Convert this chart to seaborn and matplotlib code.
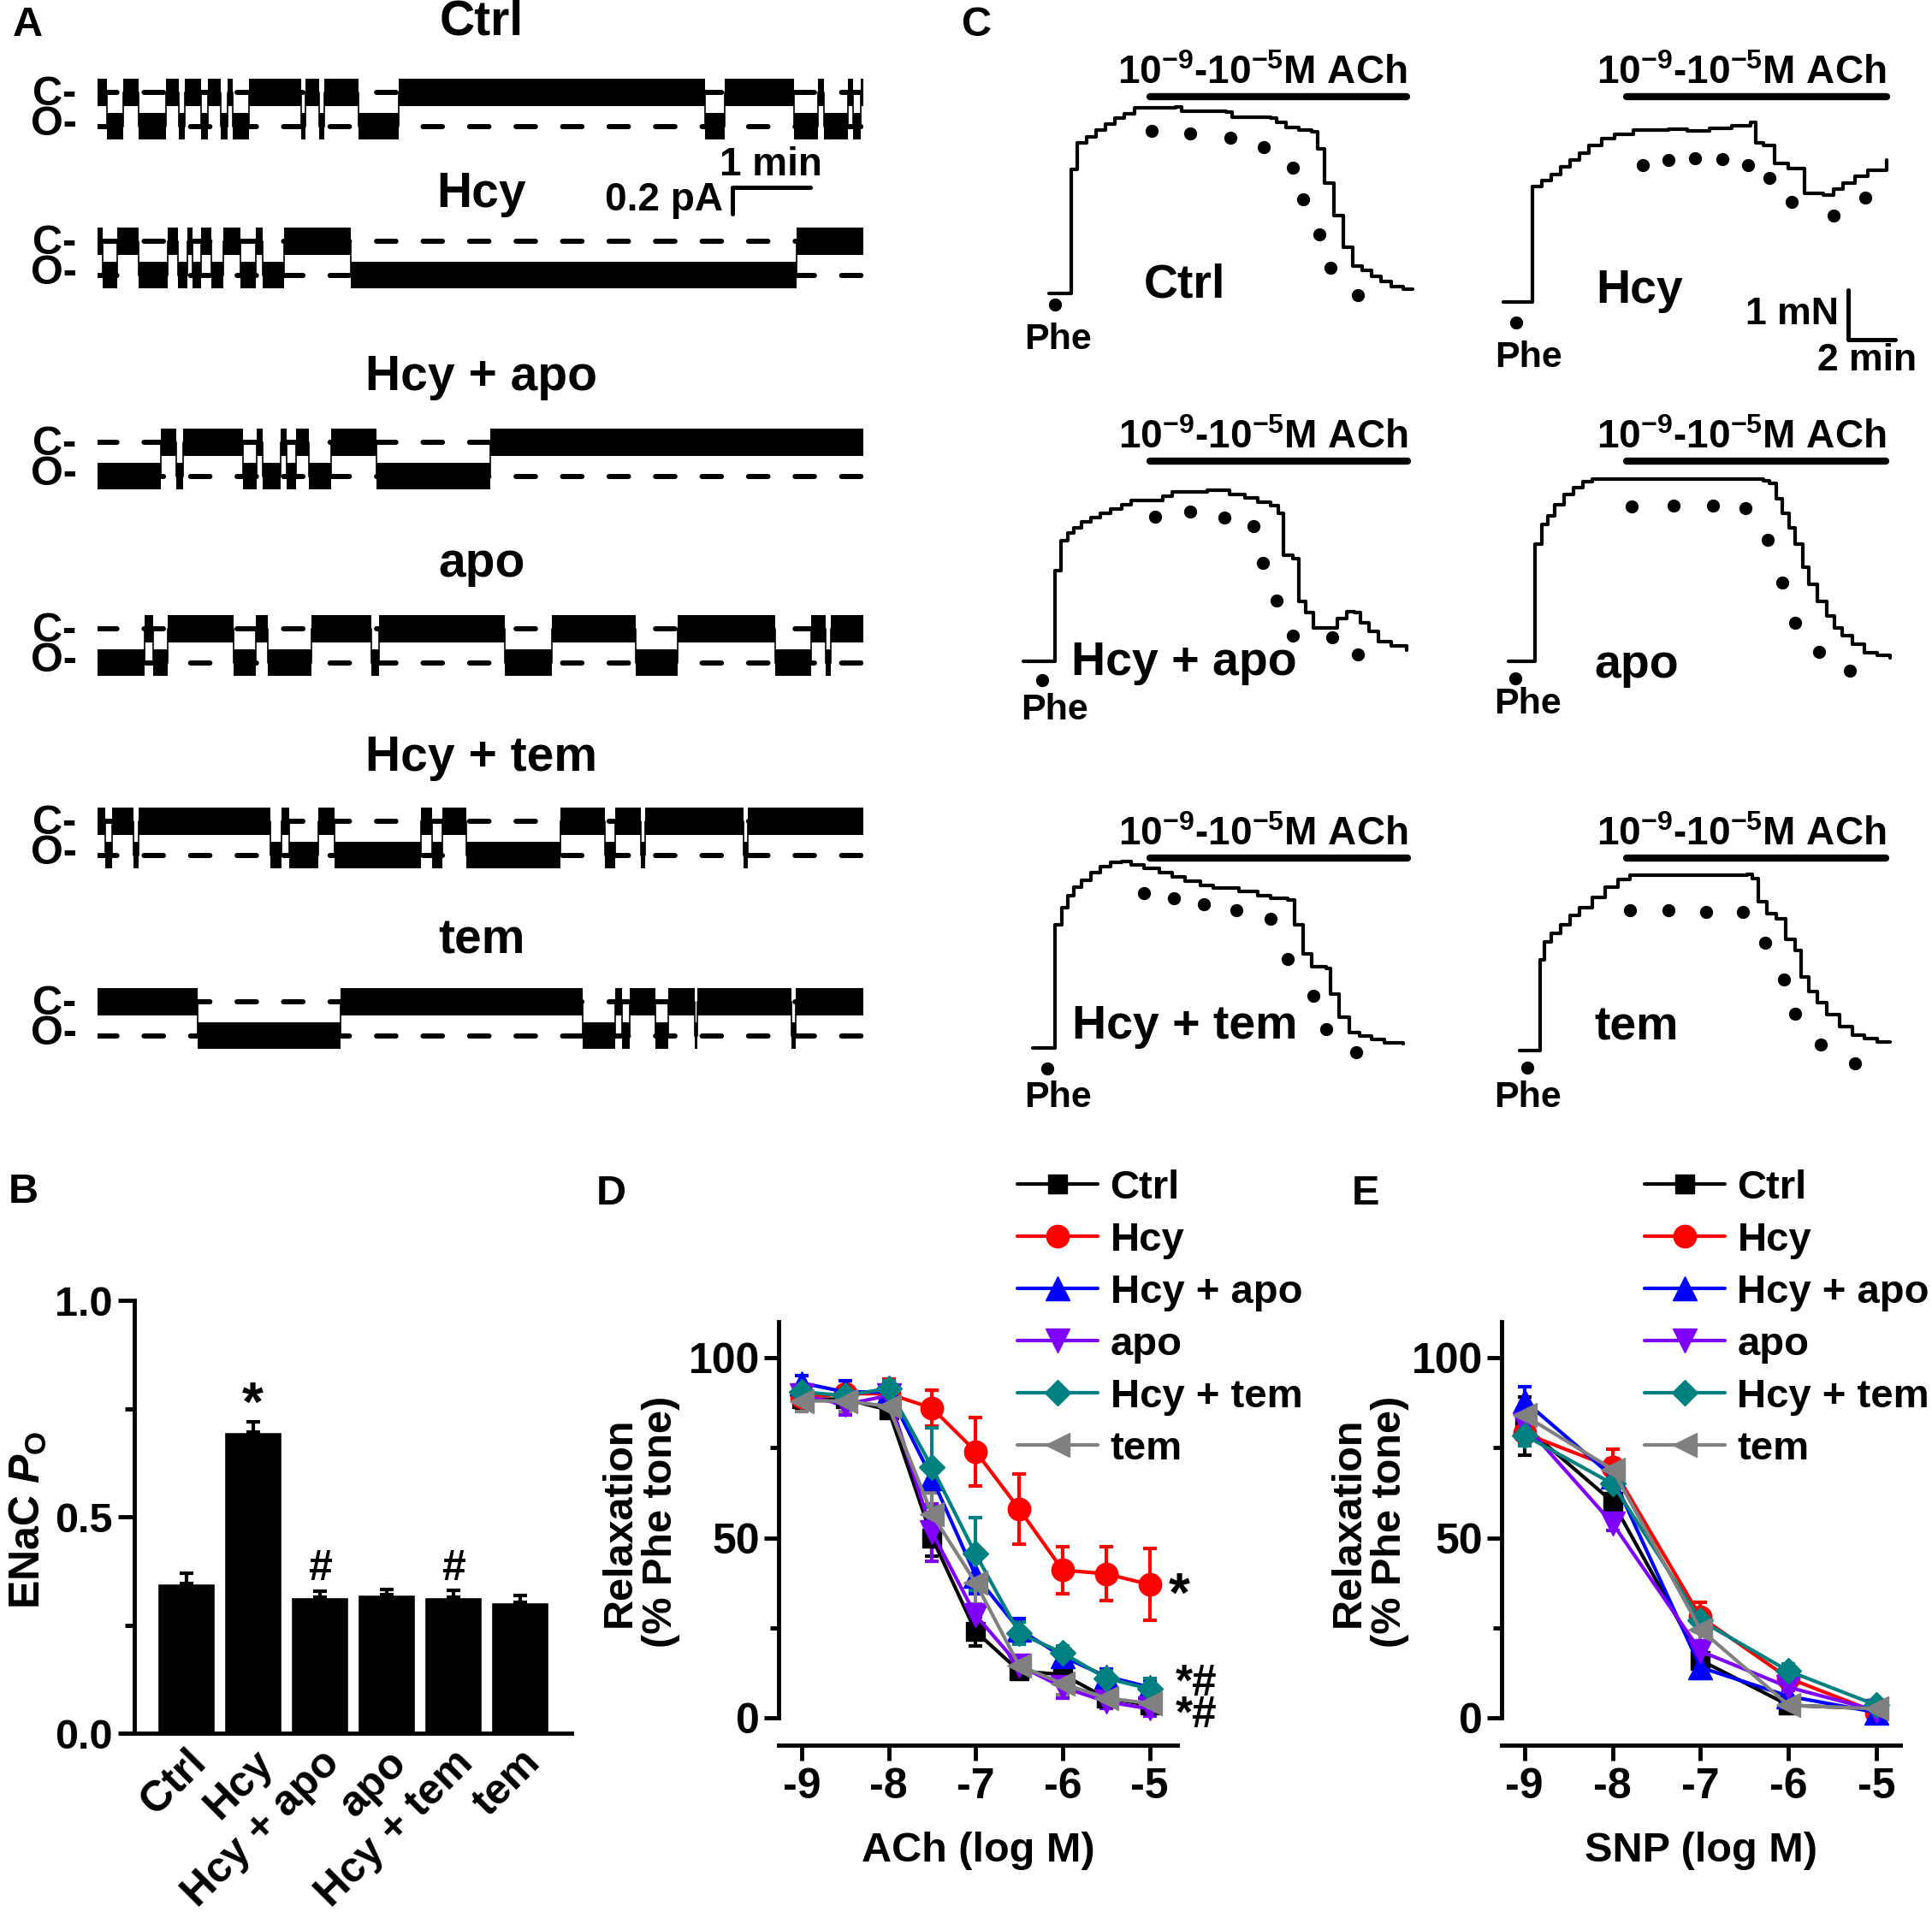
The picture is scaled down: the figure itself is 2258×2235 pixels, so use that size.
import numpy as np
import seaborn as sns
import matplotlib.pyplot as plt
from matplotlib.ticker import FixedLocator, FormatStrFormatter

# ---------------- data ----------------
groups = ['Ctrl', 'Hcy', 'Hcy + apo', 'apo', 'Hcy + tem', 'tem']
colors = ['#000000', '#ff0000', '#0000ff', '#8000ff', '#008080', '#808080']
markers = ['s', 'o', '^', 'v', 'D', '<']
marker_sizes = [16, 19, 20, 20, 15, 20]

# A: single channel records, state change times (s), states alternate from the first one
a_ctrl_t = [0, 7, 20, 32, 53, 63, 67, 80, 85, 95, 100, 104, 117, 157, 160, 171, 175, 201, 232,
            468, 483, 537, 555, 560, 578, 582, 588, 590]
a_hcy_t = [0, 4, 15, 32, 54, 62, 69, 73, 80, 88, 97, 110, 122, 127, 144, 195, 539, 590]
a_hcy_apo_t = [0, 49, 61, 66, 112, 123, 127, 141, 146, 153, 163, 180, 215, 303, 590]
a_apo_t = [0, 36, 43, 54, 105, 122, 131, 165, 211, 217, 314, 350, 415, 447, 522, 550, 561, 565, 590]
a_hcy_tem_t = [0, 6, 11, 28, 32, 133, 142, 148, 170, 183, 249, 258, 266, 284, 357, 391, 399,
               419, 422, 498, 501, 590]
a_tem_t = [0, 77, 187, 374, 399, 404, 410, 430, 440, 460, 462, 535, 538, 590]
a_first_state = ['C', 'C', 'O', 'O', 'C', 'C']

# B: ENaC Po
po_mean = [0.346, 0.696, 0.315, 0.320, 0.314, 0.302]
po_se = [0.024, 0.024, 0.013, 0.013, 0.017, 0.017]

# C: tension records (min, mN) and ACh dose dots
c_ctrl_t = [0, 0.68, 0.95, 1.22, 1.62, 2.03, 2.43, 2.84, 3.24, 3.65, 5.41, 5.68, 7.57, 7.84, 9.46,
            9.73, 10.14, 10.68, 11.22, 11.49, 11.76, 12.16, 12.57, 12.97, 13.38, 13.78, 14.19,
            14.6, 15.14, 15.54]
c_ctrl_f = [0, 0, 2.53, 3.06, 3.18, 3.32, 3.44, 3.56, 3.65, 3.77, 3.79, 3.71, 3.68, 3.59, 3.56,
            3.47, 3.38, 3.32, 3.29, 2.94, 2.24, 1.59, 0.94, 0.56, 0.47, 0.35, 0.24, 0.15, 0.09, 0.09]
c_ctrl_dot_t = [0.27, 4.41, 6.03, 7.76, 9.19, 10.41, 10.87, 11.54, 12.03, 13.19]
c_ctrl_dot_f = [-0.22, 3.31, 3.25, 3.16, 2.98, 2.56, 1.91, 1.21, 0.53, -0.03]

c_hcy_t = [0, 1.08, 1.22, 1.62, 2.03, 2.43, 2.84, 3.24, 3.65, 4.19, 4.73, 5.54, 7.03, 7.84, 8.78,
           9.73, 10.54, 10.76, 11.08, 11.57, 12.16, 12.84, 13.65, 14.06, 14.46, 15.0, 15.54, 16.35]
c_hcy_f = [0, 0, 2.35, 2.47, 2.59, 2.74, 2.88, 3.03, 3.18, 3.32, 3.41, 3.50, 3.52, 3.47, 3.53,
           3.59, 3.65, 3.24, 3.18, 2.82, 2.71, 2.21, 2.18, 2.29, 2.41, 2.56, 2.68, 2.88]
c_hcy_dot_t = [0.54, 5.95, 7.03, 8.16, 9.33, 10.41, 11.35, 12.30, 14.06, 15.41]
c_hcy_dot_f = [-0.41, 2.79, 2.89, 2.93, 2.91, 2.79, 2.53, 2.03, 1.76, 2.13]

c_hcy_apo_t = [0, 1.22, 1.35, 1.62, 1.89, 2.16, 2.49, 2.89, 3.30, 3.73, 4.19, 4.60, 5.95, 6.35,
               7.84, 8.78, 9.46, 10.0, 10.54, 10.87, 11.08, 11.49, 11.76, 12.03, 12.38, 13.11,
               13.38, 13.78, 14.11, 14.38, 14.73, 15.14, 15.68, 16.35]
c_hcy_apo_f = [0, 0, 1.85, 2.46, 2.61, 2.72, 2.84, 2.92, 3.01, 3.09, 3.19, 3.27, 3.36, 3.44, 3.48,
               3.39, 3.32, 3.24, 3.16, 3.01, 2.15, 2.08, 1.22, 0.99, 0.69, 0.69, 0.87, 1.01, 0.99,
               0.78, 0.61, 0.41, 0.32, 0.23]
c_hcy_apo_dot_t = [0.81, 5.62, 7.11, 8.57, 9.81, 10.22, 10.81, 11.49, 13.19, 14.27]
c_hcy_apo_dot_f = [-0.38, 2.94, 3.04, 2.92, 2.75, 2.0, 1.24, 0.53, 0.49, 0.15]

c_apo_t = [0, 1.0, 1.14, 1.41, 1.68, 1.95, 2.35, 2.76, 3.16, 3.57, 10.87, 11.14, 11.41, 11.68,
           11.95, 12.22, 12.54, 12.81, 13.16, 13.57, 13.89, 14.24, 14.65, 15.19, 15.73, 16.27]
c_apo_f = [0, 0, 2.38, 2.78, 2.96, 3.19, 3.39, 3.53, 3.65, 3.70, 3.67, 3.62, 3.30, 3.01, 2.72,
           2.38, 1.91, 1.57, 1.22, 0.93, 0.69, 0.53, 0.35, 0.18, 0.12, 0.08]
c_apo_dot_t = [0.27, 5.24, 7.03, 8.70, 10.11, 11.05, 11.68, 12.22, 13.24, 14.54]
c_apo_dot_f = [-0.35, 3.15, 3.17, 3.16, 3.11, 2.47, 1.61, 0.78, 0.19, -0.18]

c_hcy_tem_t = [0, 0.81, 0.95, 1.22, 1.49, 1.76, 2.08, 2.49, 2.89, 3.32, 3.78, 4.19, 4.73, 5.41,
               5.95, 6.49, 7.16, 7.70, 8.78, 9.60, 10.14, 10.89, 11.16, 11.54, 11.89, 12.51,
               12.70, 13.05, 13.51, 13.92, 14.46, 15.0, 15.81]
c_hcy_tem_f = [0, 0, 2.50, 2.85, 3.09, 3.27, 3.41, 3.56, 3.68, 3.77, 3.79, 3.72, 3.65, 3.56, 3.47,
               3.38, 3.29, 3.24, 3.18, 3.09, 3.03, 3.00, 2.50, 1.91, 1.65, 1.62, 1.09, 0.62, 0.32,
               0.24, 0.18, 0.10, 0.08]
c_hcy_tem_dot_t = [0.62, 4.73, 6.03, 7.30, 8.70, 10.14, 10.87, 11.95, 12.51, 13.78]
c_hcy_tem_dot_f = [-0.41, 3.15, 3.03, 2.91, 2.79, 2.62, 1.81, 1.06, 0.38, -0.08]

c_tem_t = [0, 0.81, 0.89, 1.08, 1.35, 1.76, 2.16, 2.57, 3.11, 3.65, 4.19, 4.73, 9.73, 9.92, 10.19,
           10.54, 10.95, 11.35, 11.76, 12.03, 12.35, 12.70, 13.11, 13.65, 14.19, 14.73, 15.27, 15.81]
c_tem_f = [0, 0, 1.85, 2.21, 2.38, 2.56, 2.74, 2.91, 3.12, 3.32, 3.47, 3.56, 3.59, 3.50, 3.03,
           2.79, 2.68, 2.26, 2.03, 1.50, 1.21, 0.97, 0.74, 0.50, 0.32, 0.24, 0.18, 0.18]
c_tem_dot_t = [0.32, 4.73, 6.35, 7.97, 9.54, 10.49, 11.30, 11.76, 12.84, 14.33]
c_tem_dot_f = [-0.35, 2.85, 2.85, 2.82, 2.82, 2.19, 1.44, 0.76, 0.13, -0.26]

# D: ACh concentration response
ach_x = [-9, -8.5, -8, -7.5, -7, -6.5, -6, -5.5, -5]
ach_ctrl = [88.5, 88.5, 85.5, 50, 24, 13, 12, 5.5, 3.5]
ach_hcy = [89, 90, 90, 86, 74, 58, 41, 40, 37]
ach_hcy_apo = [93, 90.5, 90.5, 66.5, 39.5, 24.5, 17, 11.5, 8.5]
ach_apo = [89.5, 87, 89.5, 51.5, 28.5, 14.5, 8.5, 4.5, 2.5]
ach_hcy_tem = [90.5, 89.5, 91.5, 69.5, 45.5, 23.5, 18, 11, 8]
ach_tem = [88, 88, 86.5, 56.5, 37.5, 14.5, 9.5, 5.5, 4]
ach_ctrl_se = [3, 2, 2, 5, 4, 2, 2, 2, 2]
ach_hcy_se = [2, 2, 4, 5, 9.5, 9.7, 6.5, 7.5, 10]
ach_hcy_apo_se = [2, 3, 2, 4, 5, 3, 2, 2, 2]
ach_apo_se = [3, 3, 2, 8, 3, 2, 3, 2, 2]
ach_hcy_tem_se = [2, 2, 2, 11, 10, 3, 2, 2, 3]
ach_tem_se = [3, 3, 2, 6, 6, 2, 3, 2, 2]

# E: SNP concentration response
snp_x = [-9, -8, -7, -6, -5]
snp_ctrl = [81, 60, 16, 3.5, 2.5]
snp_hcy = [79, 69.5, 28, 11, 1.5]
snp_hcy_apo = [88, 67, 14, 6, 1.5]
snp_apo = [81.5, 54, 18.5, 8.5, 2]
snp_hcy_tem = [78.5, 65, 27, 13, 3.5]
snp_tem = [84, 69, 24.5, 3.5, 2.5]
snp_ctrl_se = [8, 4, 3, 1.5, 1]
snp_hcy_se = [3, 5, 4, 1, 1]
snp_hcy_apo_se = [4, 3, 3, 2, 1]
snp_apo_se = [3, 2, 2, 1, 1]
snp_hcy_tem_se = [3, 3, 2, 2, 1]
snp_tem_se = [3, 3, 3, 1, 1]

# ---------------- style ----------------
sns.set_theme(style='ticks')
plt.rcParams['font.family'] = ['Liberation Sans', 'DejaVu Sans']
plt.rcParams.update({
    'font.weight': 'bold', 'axes.labelweight': 'bold',
    'text.color': 'black', 'axes.labelcolor': 'black', 'axes.edgecolor': 'black',
    'xtick.color': 'black', 'ytick.color': 'black', 'axes.linewidth': 3.5,
    'axes.unicode_minus': False,
    'mathtext.fontset': 'custom', 'mathtext.rm': 'Liberation Sans:bold',
    'mathtext.bf': 'Liberation Sans:bold', 'mathtext.it': 'Liberation Sans:italic:bold',
})

W, H = 2258, 2235
fig = plt.figure(figsize=(W / 100, H / 100), dpi=100)


def px_axes(left, top, right, bottom):
    return fig.add_axes([left / W, 1 - bottom / H, (right - left) / W, (bottom - top) / H])


# ---------------- A ----------------
A_LEFT, A_SEC, A_PA = 113.9, 1.5168, 158.5
UNIT, BAND = 0.25, 0.1
a_traces = [a_ctrl_t, a_hcy_t, a_hcy_apo_t, a_apo_t, a_hcy_tem_t, a_tem_t]
a_rows_px = [108, 282, 517, 735, 960, 1171]
a_title_dy = [0.52, 0.35, 0.48, 0.48, 0.47, 0.45]

for i, (bounds, first) in enumerate(zip(a_traces, a_first_state)):
    yc = a_rows_px[i]
    ax = px_axes(A_LEFT, yc - 0.6 * A_PA, A_LEFT + 590 * A_SEC, yc + 0.6 * A_PA)
    ax.set_xlim(0, 590)
    ax.set_ylim(-0.6, 0.6)
    ax.axis('off')
    for lvl in (0, -UNIT):
        ax.plot([0, 590], [lvl, lvl], color='black', lw=4.3, ls=(0, (3.8, 5.3)),
                dash_capstyle='round', zorder=1)
    t = np.array(bounds, dtype=float)
    n = len(t) - 1
    is_open = [(k % 2 == 1) if first == 'C' else (k % 2 == 0) for k in range(n)]
    lv = np.array([-UNIT if o else 0.0 for o in is_open])
    lv = np.append(lv, lv[-1])
    ax.fill_between(t, lv - BAND, lv + BAND, step='post', color='black', lw=0, zorder=3)
    ax.step(t, lv, where='post', color='black', lw=1.2, zorder=3)
    ax.text(-16, -UNIT / 2, 'C-\nO-', ha='right', va='center', fontsize=35, linespacing=0.73)
    ax.text(296, a_title_dy[i], groups[i], ha='center', va='center', fontsize=41)
    if i == 1:
        ax.plot([489, 489, 549], [0.2, 0.4, 0.4], color='black', lw=3.6, clip_on=False)
        ax.text(519, 0.56, '1 min', ha='center', va='center', fontsize=33)
        ax.text(482, 0.3, '0.2 pA', ha='right', va='center', fontsize=33)

# ---------------- C ----------------
C_MIN, C_MN = 27.4, 57.6
c_traces = [(c_ctrl_t, c_ctrl_f, c_ctrl_dot_t, c_ctrl_dot_f),
            (c_hcy_t, c_hcy_f, c_hcy_dot_t, c_hcy_dot_f),
            (c_hcy_apo_t, c_hcy_apo_f, c_hcy_apo_dot_t, c_hcy_apo_dot_f),
            (c_apo_t, c_apo_f, c_apo_dot_t, c_apo_dot_f),
            (c_hcy_tem_t, c_hcy_tem_f, c_hcy_tem_dot_t, c_hcy_tem_dot_f),
            (c_tem_t, c_tem_f, c_tem_dot_t, c_tem_dot_f)]
c_origin_px = [(1225.6, 343.3), (1757.3, 353.3), (1196.0, 773.3), (1763.2, 773.3),
               (1207.1, 1225.0), (1775.8, 1228.3)]
c_bar = [(4.32, 15.27, 3.99), (5.26, 16.33, 4.17), (5.39, 16.39, 4.06), (5.04, 16.10, 4.06),
         (4.99, 15.99, 3.85), (4.58, 15.64, 3.91)]
c_name_pos = [(5.8, 0.17), (5.8, 0.23), (6.87, -0.03), (5.45, -0.09), (6.47, 0.43), (4.99, 0.46)]
c_phe_pos = [(0.4, -0.93), (1.08, -1.13), (1.35, -0.98), (0.81, -0.87), (1.08, -1.01), (0.35, -0.95)]

for i, (tt, ff, dt, df) in enumerate(c_traces):
    x0, yb = c_origin_px[i]
    ax = px_axes(x0 - 2 * C_MIN, yb - 5 * C_MN, x0 + 18 * C_MIN, yb + 2 * C_MN)
    ax.set_xlim(-2, 18)
    ax.set_ylim(-2, 5)
    ax.axis('off')
    ax.plot(tt, ff, drawstyle='steps-post', color='black', lw=3)
    ax.plot(dt, df, 'o', color='black', ms=10, ls='none')
    b0, b1, bf = c_bar[i]
    ax.plot([b0, b1], [bf, bf], color='black', lw=6, solid_capstyle='round')
    ax.text(b1, bf + 0.27, r'10$^{-9}$-10$^{-5}$M ACh', ha='right', va='baseline', fontsize=33)
    ax.text(*c_name_pos[i], groups[i], ha='center', va='center', fontsize=40)
    ax.text(*c_phe_pos[i], 'Phe', ha='center', va='center', fontsize=31)
    if i == 1:
        ax.plot([14.7, 14.7, 16.7], [0.25, -0.75, -0.75], color='black', lw=3.6, clip_on=False)
        ax.text(14.3, -0.25, '1 mN', ha='right', va='center', fontsize=32)
        ax.text(15.5, -1.19, '2 min', ha='center', va='center', fontsize=32)

# ---------------- B ----------------
axB = px_axes(143, 1520.4, 668, 2026)
sns.barplot(x=groups, y=po_mean, color='black', saturation=1, width=0.86, errorbar=None, ax=axB)
axB.errorbar(range(len(groups)), po_mean, yerr=[np.zeros(len(groups)), po_se], fmt='none',
             ecolor='black', elinewidth=3, capsize=6, capthick=3)
sns.despine(ax=axB)
axB.set_xlim(-0.957, 5.77)
axB.set_ylim(0, 1.0)
axB.spines['left'].set_position(('data', -0.78))
axB.set_yticks([0, 0.5, 1.0])
axB.yaxis.set_minor_locator(FixedLocator([0.25, 0.75]))
axB.yaxis.set_major_formatter(FormatStrFormatter('%.1f'))
axB.tick_params(axis='y', which='major', length=14, width=3.5, labelsize=35, pad=4)
axB.tick_params(axis='y', which='minor', length=8, width=3.5)
axB.tick_params(axis='x', length=0, labelsize=36, pad=8)
for lab in axB.get_xticklabels():
    lab.set_rotation(45)
    lab.set_ha('right')
    lab.set_va('top')
    lab.set_rotation_mode('anchor')
axB.set_xlabel('')
axB.set_ylabel(r'ENaC $\mathit{P}_{\mathrm{O}}$', fontsize=36)
axB.yaxis.set_label_coords(-0.164, 0.492)
axB.text(1, 0.722, '*', ha='center', va='baseline', fontsize=46)
for k in (2, 4):
    axB.text(k, 0.355, '#', ha='center', va='baseline', fontsize=36)


# ---------------- D / E ----------------
def response_panel(ax, x, series, errors, xlabel, xlim, label_x, legend_x):
    for g, c, m, ms, y, e in zip(groups, colors, markers, marker_sizes, series, errors):
        ax.errorbar(x, y, yerr=e, fmt='none', ecolor=c, elinewidth=3, capsize=6, capthick=3,
                    zorder=2)
        sns.lineplot(x=x, y=y, ax=ax, color=c, marker=m, markersize=ms, linewidth=3,
                     markeredgecolor=c, markeredgewidth=1, label=g, zorder=3)
    sns.despine(ax=ax)
    ax.set_xlim(*xlim)
    ax.set_ylim(-7.6, 110)
    ax.spines['left'].set_bounds(0, 110)
    ax.set_yticks([0, 50, 100])
    ax.yaxis.set_minor_locator(FixedLocator([25, 75]))
    ax.set_xticks([-9, -8, -7, -6, -5])
    ax.tick_params(axis='y', which='major', length=12, width=3.5, labelsize=36, pad=4)
    ax.tick_params(axis='y', which='minor', length=7, width=3.5)
    ax.tick_params(axis='x', length=13, width=3.5, labelsize=36, pad=6)
    ax.set_xlabel(xlabel, fontsize=35)
    ax.xaxis.set_label_coords(0.5, -0.205)
    ax.set_ylabel('Relaxation\n(% Phe tone)', fontsize=35, linespacing=1.1)
    ax.yaxis.set_label_coords(label_x, 0.527)
    handles, labels = ax.get_legend_handles_labels()
    ax.legend(handles, labels, loc='upper left', bbox_to_anchor=(legend_x, 1.36), frameon=False,
              fontsize=34, handlelength=2.0, handletextpad=0.3, labelspacing=0.36,
              borderpad=0, borderaxespad=0)


axD = px_axes(910.3, 1545, 1376.3, 2040)
response_panel(axD, ach_x,
               [ach_ctrl, ach_hcy, ach_hcy_apo, ach_apo, ach_hcy_tem, ach_tem],
               [ach_ctrl_se, ach_hcy_se, ach_hcy_apo_se, ach_apo_se, ach_hcy_tem_se, ach_tem_se],
               'ACh (log M)', (-9.26, -4.68), -0.247, 0.598)
axD.text(-4.66, 29.6, '*', ha='center', va='baseline', fontsize=46, clip_on=False)
axD.text(-4.47, 5.0, '*#\n*#', ha='center', va='center', fontsize=37, linespacing=0.68,
         clip_on=False)

axE = px_axes(1755, 1545, 2221, 2040)
response_panel(axE, snp_x,
               [snp_ctrl, snp_hcy, snp_hcy_apo, snp_apo, snp_hcy_tem, snp_tem],
               [snp_ctrl_se, snp_hcy_se, snp_hcy_apo_se, snp_apo_se, snp_hcy_tem_se, snp_tem_se],
               'SNP (log M)', (-9.26, -4.73), -0.232, 0.358)

# panel letters
for letter, (px, py) in zip('ABCDE', [(32, 30), (27, 1393), (1142, 30), (714, 1395), (1596, 1396)]):
    fig.text(px / W, 1 - py / H, letter, ha='center', va='center', fontsize=35)

fig.savefig('out.png', dpi=100)
